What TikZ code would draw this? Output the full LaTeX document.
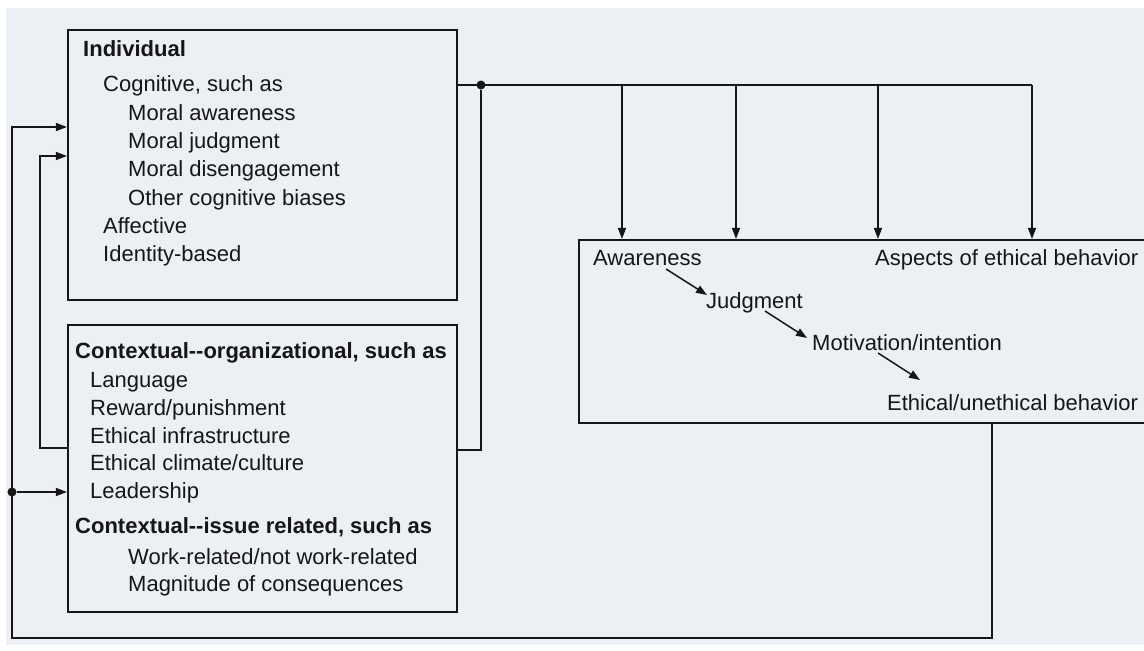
\documentclass[tikz,border=0pt]{standalone}
\usepackage{fontspec}
\setmainfont{Liberation Sans}
\usetikzlibrary{arrows.meta,calc}
\definecolor{paper}{RGB}{236,239,243}
\definecolor{ink}{RGB}{22,22,22}
\tikzset{
  box/.style={draw=ink, line width=2.1pt, inner sep=0pt},
  wire/.style={draw=ink, line width=1.5pt, line join=miter},
  tip/.style={-{Triangle[length=11pt,width=8pt]}},
  txt/.style={anchor=base west, inner sep=0pt, text=ink, font=\fontsize{22}{26}\selectfont},
  hd/.style={txt, font=\fontsize{22}{26}\selectfont\bfseries},
  jdot/.style={circle, fill=ink, inner sep=0pt, minimum size=9pt},
}
\begin{document}
\begin{tikzpicture}[x=1pt,y=-1pt]
  % page and paper
  \useasboundingbox (0,0) rectangle (1144,651);
  \fill[white] (0,0) rectangle (1144,651);
  \fill[paper] (6,8) rectangle (1144,645);

  % the three boxes
  \node[box, minimum width=389pt, minimum height=270pt] (indiv) at (262.5,165) {};
  \node[box, minimum width=389pt, minimum height=287pt] (ctx) at (262.5,468.5) {};
  \node[box, minimum width=581pt, minimum height=183pt] (right) at (869.5,331.5) {};

  % individual factors
  \node[hd]  (i0) at (83,56)  {Individual};
  \node[txt] (i1) at (103,91) {Cognitive, such as};
  \node[txt] (i2) at (128,120) {Moral awareness};
  \node[txt] (i3) at (128,148) {Moral judgment};
  \node[txt] (i4) at (128,176) {Moral disengagement};
  \node[txt] (i5) at (128,205) {Other cognitive biases};
  \node[txt] (i6) at (103,233) {Affective};
  \node[txt] (i7) at (103,261) {Identity-based};

  % contextual factors
  \node[hd]  (c0) at (75,358) {Contextual-{}-organizational, such as};
  \node[txt] (c1) at (90,387) {Language};
  \node[txt] (c2) at (90,415) {Reward/punishment};
  \node[txt] (c3) at (90,443) {Ethical infrastructure};
  \node[txt] (c4) at (90,470) {Ethical climate/culture};
  \node[txt] (c5) at (90,498) {Leadership};
  \node[hd]  (c6) at (75,533) {Contextual-{}-issue related, such as};
  \node[txt] (c7) at (128,564) {Work-related/not work-related};
  \node[txt] (c8) at (128,591) {Magnitude of consequences};

  % aspects of ethical behavior
  \node[txt] (aw) at (593,265) {Awareness};
  \node[txt] (as) at (875,265) {Aspects of ethical behavior};
  \node[txt] (jd) at (706,308) {Judgment};
  \node[txt] (mo) at (812,350) {Motivation/intention};
  \node[txt] (et) at (887,410) {Ethical/unethical behavior};

  \draw[wire,tip] ($(aw.base west)+(73,4)$) -- ($(jd.base west)+(1,-13)$);
  \draw[wire,tip] ($(jd.base west)+(59,3)$) -- ($(mo.base west)+(-5,-12)$);
  \draw[wire,tip] ($(mo.base west)+(66,3)$) -- ($(et.base west)+(33,-30)$);

  % influence bus from the factors to each aspect
  \coordinate (b0) at (457,85);
  \coordinate (t1) at (622,85);
  \coordinate (t2) at (736,85);
  \coordinate (t3) at (878,85);
  \coordinate (t4) at (1032,85);
  \node[jdot] (j1) at (481,85) {};
  \draw[wire] (indiv.east |- b0) -- (t4);
  \foreach \t in {t1,t2,t3,t4}
    \draw[wire,tip] (\t) -- (right.north -| \t);

  \coordinate (cj) at (481,450);
  \draw[wire] (ctx.east |- cj) -- (cj) -- (j1);

  % context shaping the individual
  \coordinate (ib) at (40,448);
  \coordinate (it) at (40,156);
  \draw[wire,tip] (ctx.west |- ib) -- (ib) -- (it) -- (indiv.west |- it);

  % feedback from behavior
  \coordinate (fb) at (992,638);
  \coordinate (lc) at (12,638);
  \coordinate (lt) at (12,127);
  \node[jdot] (j2) at (12,492) {};
  \draw[wire,tip] (right.south -| fb) -- (fb) -- (lc) -- (lt) -- (indiv.west |- lt);
  \draw[wire,tip] (j2) -- (ctx.west |- j2);
\end{tikzpicture}
\end{document}
